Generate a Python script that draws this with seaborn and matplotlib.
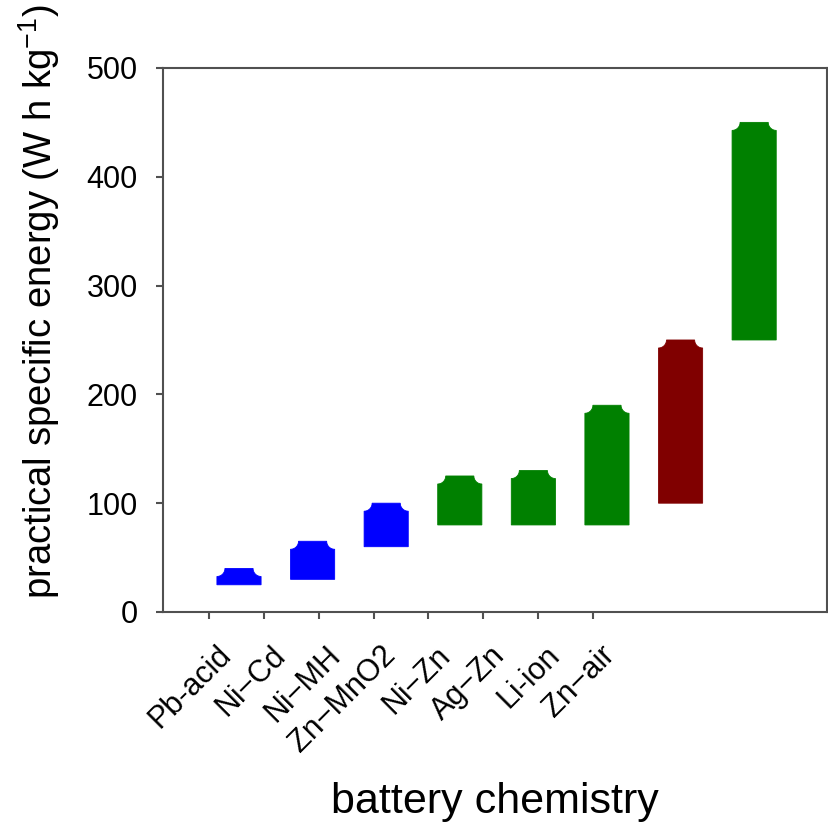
import numpy as np
import pandas as pd
import matplotlib
matplotlib.use("Agg")
import matplotlib.pyplot as plt
from matplotlib.path import Path
from matplotlib.patches import PathPatch
from matplotlib.transforms import ScaledTranslation
import seaborn as sns

# Practical specific energy ranges per battery chemistry (W h kg^-1)
chemistries = ["Pb-acid", "Ni\u2212Cd", "Ni\u2212MH", "Zn\u2212MnO2", "Ni\u2212Zn",
               "Ag\u2212Zn", "Li-ion", "Zn\u2212air"]
energy_low = [25, 30, 60, 80, 80, 80, 100, 250]
energy_high = [40, 65, 100, 125, 130, 190, 250, 450]
bar_colors = ["#0000ff", "#0000ff", "#0000ff", "#008000", "#008000",
              "#008000", "#800000", "#008000"]
y_ticks = [0, 100, 200, 300, 400, 500]

sns.set_theme(style="white")
plt.rcParams["font.family"] = ["Liberation Sans", "DejaVu Sans"]
plt.rcParams["mathtext.fontset"] = "custom"
plt.rcParams["mathtext.rm"] = "Liberation Sans"
plt.rcParams["mathtext.it"] = "Liberation Sans:italic"
plt.rcParams["mathtext.default"] = "regular"

df = pd.DataFrame({
    "chemistry": chemistries,
    "low": energy_low,
    "high": energy_high,
})

fig = plt.figure(figsize=(8.29, 8.24), dpi=100)
ax = fig.add_axes([0.1966, 0.2573, 0.8010, 0.6602])

sns.barplot(data=df, x="chemistry", y="high", hue="chemistry",
            palette=bar_colors, legend=False, width=0.6, ax=ax,
            saturation=1, linewidth=0)

ax.set_xlim(-1.033, 7.99)
ax.set_ylim(0, 500)
fig.canvas.draw()

# pixel -> data scale factors, used to size the scooped top corners
trans = ax.transData
p0 = trans.transform((0, 0))
p1 = trans.transform((1, 100))
px_per_x = p1[0] - p0[0]
px_per_y = (p1[1] - p0[1]) / 100.0
notch_px = 8.0
rx = notch_px / px_per_x
ry = notch_px / px_per_y

# Replace each seaborn bar with a floating bar whose top corners are scooped
patches = list(ax.patches)
for patch, lo, hi, col in zip(patches, df["low"], df["high"], bar_colors):
    x0 = patch.get_x()
    x1 = x0 + patch.get_width()
    patch.remove()
    t = np.linspace(0, np.pi / 2, 16)
    left_arc = np.column_stack([x0 + rx * np.sin(t), hi - ry * np.cos(t)])
    right_arc = np.column_stack([x1 - rx * np.cos(t), hi - ry * np.sin(t)])
    verts = np.vstack([[[x0, lo], [x0, hi - ry]], left_arc, right_arc,
                       [[x1, hi - ry], [x1, lo], [x0, lo]]])
    codes = [Path.MOVETO] + [Path.LINETO] * (len(verts) - 2) + [Path.CLOSEPOLY]
    ax.add_patch(PathPatch(Path(verts, codes), facecolor=col,
                           edgecolor=col, linewidth=0.6))

spine_col = "#505050"
for s in ax.spines.values():
    s.set_visible(True)
    s.set_color(spine_col)
    s.set_linewidth(1.5)
ax.tick_params(axis="both", which="major", direction="out", length=5,
               width=1.5, color=spine_col, labelcolor="black",
               bottom=True, left=True, top=False, right=False)
ax.tick_params(axis="x", pad=6)
ax.tick_params(axis="y", pad=13)

# Category tick marks and their labels
tick_first, tick_step = -0.408, 0.7456
tick_pos = [tick_first + i * tick_step for i in range(len(chemistries))]
ax.set_xticks(tick_pos)
ax.set_xticklabels(chemistries, rotation=45, ha="right",
                   rotation_mode="anchor", fontsize=22)
ax.set_yticks(y_ticks)
ax.set_yticklabels([str(v) for v in y_ticks], fontsize=22)

ax.set_xlabel("battery chemistry", fontsize=31, color="black")
ax.set_ylabel(r"practical specific energy (W h kg$^{-1}$)", fontsize=27.5,
              color="black")
ax.xaxis.set_label_coords(0.5, -0.312)
ax.yaxis.set_label_coords(-0.152, 0.571)
ax.grid(False)

# nudge the slanted category labels down and to the right
fig.canvas.draw()
shift = ScaledTranslation(7 / 100, -13 / 100, fig.dpi_scale_trans)
for tick in ax.xaxis.get_major_ticks():
    tick.label1.set_transform(tick.label1.get_transform() + shift)

fig.savefig("out.png", dpi=100)
